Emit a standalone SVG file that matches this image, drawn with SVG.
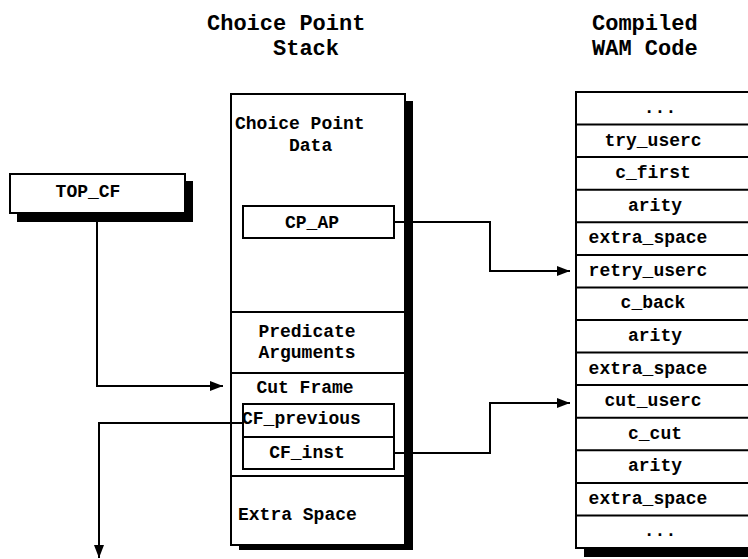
<svg xmlns="http://www.w3.org/2000/svg" width="748" height="559" viewBox="0 0 748 559">
<style>
text{font-family:"Liberation Mono","Courier New",monospace;font-weight:bold;fill:#000}
.h{font-size:22px}
.t{font-size:18px}
.m{text-anchor:middle}
.box{fill:#fff;stroke:#000;stroke-width:2}
.sh{fill:#000}
.ln{fill:none;stroke:#000;stroke-width:2}
.con{fill:none;stroke:#000;stroke-width:2;marker-end:url(#ah)}
</style>
<defs>
<marker id="ah" markerUnits="userSpaceOnUse" markerWidth="13" markerHeight="10" refX="13" refY="5" orient="auto">
<path d="M0,0 L13,5 L0,10 z" fill="#000"/>
</marker>
</defs>
<rect width="748" height="559" fill="#fff"/>

<g id="headers">
<text class="h" x="207" y="30">Choice Point</text>
<text class="h" x="273" y="55">Stack</text>
<text class="h" x="592" y="30">Compiled</text>
<text class="h" x="592" y="55">WAM Code</text>
</g>

<g id="top_cf">
<rect class="sh" x="17" y="181" width="176" height="41"/>
<rect class="box" x="10" y="174" width="175" height="39"/>
<text class="t m" x="88" y="197">TOP_CF</text>
</g>

<g id="choice_point_stack">
<rect class="sh" x="239" y="101" width="174" height="449"/>
<rect class="box" x="231" y="94" width="174" height="451"/>
<line class="ln" x1="231" y1="312" x2="405" y2="312"/>
<line class="ln" x1="231" y1="373" x2="405" y2="373"/>
<line class="ln" x1="231" y1="476" x2="405" y2="476"/>
<text class="t" x="235" y="129">Choice Point</text>
<text class="t" x="289" y="151">Data</text>
<text class="t m" x="307" y="337">Predicate</text>
<text class="t m" x="307" y="358">Arguments</text>
<text class="t m" x="305" y="393">Cut Frame</text>
<text class="t" x="238" y="520">Extra Space</text>
</g>

<g id="cp_ap">
<rect class="box" x="243" y="206" width="151" height="32"/>
<text class="t m" x="312" y="228">CP_AP</text>
</g>

<g id="cf_previous">
<rect class="box" x="243" y="404" width="151" height="33"/>
<text class="t" x="242" y="424">CF_previous</text>
</g>

<g id="cf_inst">
<rect class="box" x="243" y="437" width="151" height="32"/>
<text class="t m" x="307" y="458">CF_inst</text>
</g>

<g id="wam_code">
<rect class="sh" x="584" y="100" width="200" height="457"/>
<rect class="box" x="576" y="92" width="200" height="456"/>
<g class="ln">
<line x1="576" y1="124.6" x2="760" y2="124.6"/>
<line x1="576" y1="157.1" x2="760" y2="157.1"/>
<line x1="576" y1="189.7" x2="760" y2="189.7"/>
<line x1="576" y1="222.3" x2="760" y2="222.3"/>
<line x1="576" y1="254.9" x2="760" y2="254.9"/>
<line x1="576" y1="287.4" x2="760" y2="287.4"/>
<line x1="576" y1="320" x2="760" y2="320"/>
<line x1="576" y1="352.6" x2="760" y2="352.6"/>
<line x1="576" y1="385.1" x2="760" y2="385.1"/>
<line x1="576" y1="417.7" x2="760" y2="417.7"/>
<line x1="576" y1="450.3" x2="760" y2="450.3"/>
<line x1="576" y1="482.9" x2="760" y2="482.9"/>
<line x1="576" y1="515.4" x2="760" y2="515.4"/>
</g>
<text class="t m" x="660" y="113">...</text>
<text class="t m" x="653" y="146">try_userc</text>
<text class="t m" x="653" y="178">c_first</text>
<text class="t m" x="655" y="211">arity</text>
<text class="t m" x="648" y="243">extra_space</text>
<text class="t m" x="648" y="276">retry_userc</text>
<text class="t m" x="653" y="308">c_back</text>
<text class="t m" x="655" y="341">arity</text>
<text class="t m" x="648" y="374">extra_space</text>
<text class="t m" x="653" y="406">cut_userc</text>
<text class="t m" x="655" y="439">c_cut</text>
<text class="t m" x="655" y="471">arity</text>
<text class="t m" x="648" y="504">extra_space</text>
<text class="t m" x="660" y="536">...</text>
</g>

<g id="connectors">
<path class="con" d="M97,213 V386 H223"/>
<path class="con" d="M243,423 H99 V558"/>
<path class="con" d="M394,222 H490 V271 H570"/>
<path class="con" d="M394,453 H490 V403 H570"/>
</g>
</svg>
